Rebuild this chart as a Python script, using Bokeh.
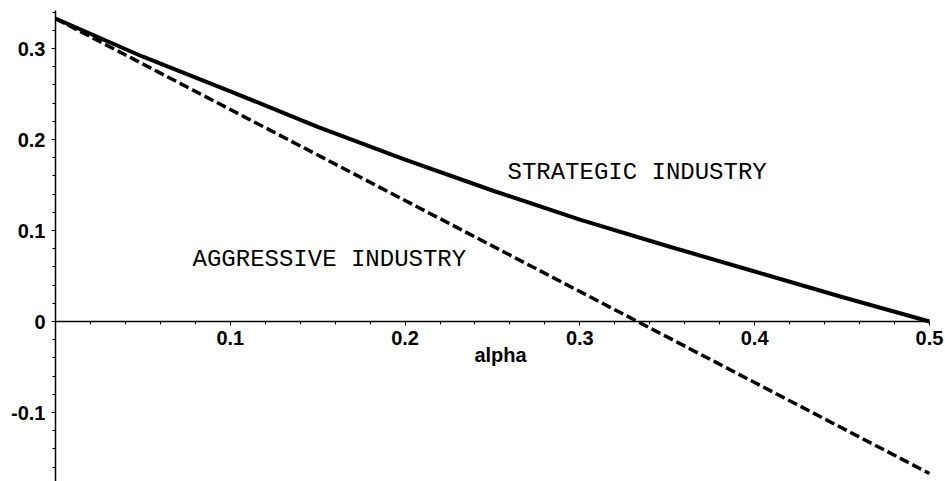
from bokeh.plotting import figure
from bokeh.models import Range1d, LinearAxis, FixedTicker, Label
from bokeh.embed import file_html
from bokeh.resources import INLINE

# ---- data ----
alpha_strategic = [0.0, 0.05, 0.10, 0.15, 0.20, 0.25, 0.30, 0.35, 0.40, 0.45, 0.50]
profit_strategic = [0.333, 0.291, 0.253, 0.214, 0.178, 0.144, 0.112, 0.083, 0.055, 0.027, 0.0]

alpha_aggressive = [0.0, 0.1, 0.2, 0.3, 0.4, 0.5]
profit_aggressive = [0.333, 0.233, 0.133, 0.033, -0.067, -0.167]

x_ticks = [0.1, 0.2, 0.3, 0.4, 0.5]
x_tick_labels = ["0.1", "0.2", "0.3", "0.4", "0.5"]
y_ticks = [-0.1, 0.0, 0.1, 0.2, 0.3]
y_tick_labels = ["-0.1", "0", "0.1", "0.2", "0.3"]
x_minor = [0.02, 0.04, 0.06, 0.08, 0.12, 0.14, 0.16, 0.18, 0.22, 0.24, 0.26, 0.28,
           0.32, 0.34, 0.36, 0.38, 0.42, 0.44, 0.46, 0.48]
y_minor = [-0.16, -0.14, -0.12, -0.08, -0.06, -0.04, -0.02, 0.02, 0.04, 0.06, 0.08,
           0.12, 0.14, 0.16, 0.18, 0.22, 0.24, 0.26, 0.28, 0.32, 0.34]

x_label = "alpha"
series_labels = ["STRATEGIC INDUSTRY", "AGGRESSIVE INDUSTRY"]

# ---- figure ----
p = figure(width=945, height=481, output_backend="svg", toolbar_location=None,
           x_axis_type=None, y_axis_type=None,
           x_range=Range1d(0.0, 0.5092), y_range=Range1d(-0.1758, 0.3418),
           min_border_left=55, min_border_right=0, min_border_top=10, min_border_bottom=0)
p.outline_line_color = None
p.background_fill_color = "white"
p.border_fill_color = "white"

tick_font = "Liberation Sans"

# y axis (left edge = alpha 0)
yaxis = LinearAxis(ticker=FixedTicker(ticks=y_ticks, minor_ticks=y_minor))
yaxis.major_label_overrides = {t: l for t, l in zip(y_ticks, y_tick_labels)}
yaxis.axis_line_width = 1.5
yaxis.major_tick_out = 4
yaxis.major_tick_in = 0
yaxis.minor_tick_out = 3
yaxis.minor_tick_in = 0
yaxis.major_label_standoff = 6
yaxis.major_label_text_font = tick_font
yaxis.major_label_text_font_style = "bold"
yaxis.major_label_text_font_size = "20px"
yaxis.major_label_text_color = "black"
p.add_layout(yaxis, "left")

# x axis through y = 0 (axis line drawn separately so it stops at 0.5)
xaxis = LinearAxis(ticker=FixedTicker(ticks=x_ticks, minor_ticks=x_minor), fixed_location=0)
xaxis.major_label_overrides = {t: l for t, l in zip(x_ticks, x_tick_labels)}
xaxis.axis_line_color = None
xaxis.major_tick_out = 4
xaxis.major_tick_in = 0
xaxis.minor_tick_out = 3
xaxis.minor_tick_in = 0
xaxis.major_label_standoff = 5
xaxis.major_label_text_font = tick_font
xaxis.major_label_text_font_style = "bold"
xaxis.major_label_text_font_size = "20px"
xaxis.major_label_text_color = "black"
xaxis.axis_label = x_label
xaxis.axis_label_standoff = -4
xaxis.axis_label_text_font = tick_font
xaxis.axis_label_text_font_style = "bold"
xaxis.axis_label_text_font_size = "20px"
xaxis.axis_label_text_color = "black"
p.add_layout(xaxis, "below")
p.segment(x0=[0.0], y0=[0.0], x1=[x_ticks[-1]], y1=[0.0], line_color="black", line_width=1.5)

# curves
p.line(alpha_strategic, profit_strategic, line_color="black", line_width=4)
p.line(alpha_aggressive, profit_aggressive, line_color="black", line_width=3.5,
       line_dash="10 4")

# labels
p.add_layout(Label(x=0.2586, y=0.1637, text=series_labels[0], text_font="Liberation Mono",
                   text_font_size="24px", text_baseline="middle", text_color="black"))
p.add_layout(Label(x=0.0784, y=0.068, text=series_labels[1], text_font="Liberation Mono",
                   text_font_size="24px", text_baseline="middle", text_color="black"))

open("out.html", "w").write(file_html(p, INLINE))
